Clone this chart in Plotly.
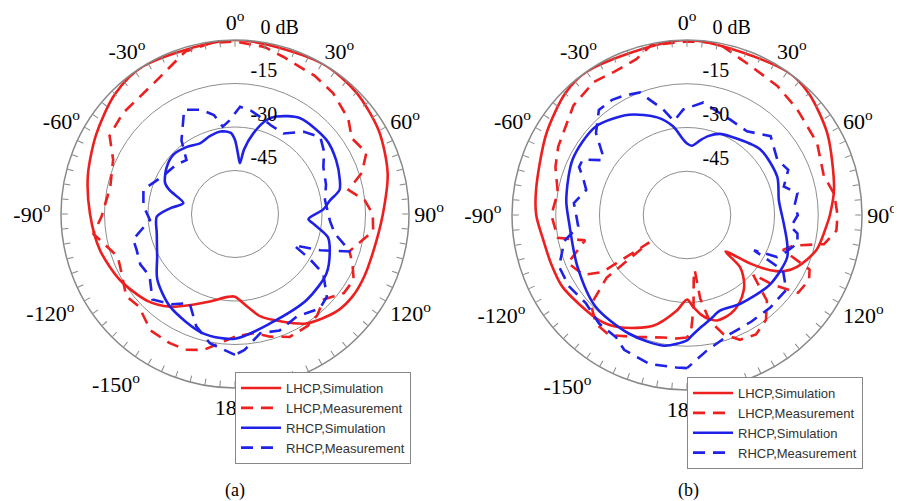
import plotly.graph_objects as go

# ---------------- data (angle in degrees, gain in dB) ----------------
# Panel (a)
a_lhcp_sim_theta = [-180, -175, -164, -155, -145, -135, -120, -105, -90, -75, -60, -45, -32, 0, 30, 45, 60, 75, 90, 105, 116, 125, 134, 147, 157, 166, 172]
a_lhcp_sim_db    = [-31.5, -31.3, -28.6, -25.5, -21.0, -17.5, -14.3, -11.8, -10.0, -7.5, -4.8, -1.5, 0.0, 0.0, 0.0, -0.8, -2.7, -5.5, -9.0, -10.6, -10.5, -10.5, -11.5, -15.0, -19.8, -23.6, -27.5]

a_lhcp_meas_theta = [-180, -167, -160, -153, -144, -134, -127, -117, -110, -98, -91, -78, -66, -58, -48, -30, -17, -8, 0, 10, 17, 30, 39, 50, 57, 65, 72, 78, 84, 90, 97, 103, 108, 113, 119, 126, 134, 141, 147, 156, 164, 171]
a_lhcp_meas_db    = [-17.7, -11.9, -10.2, -10.1, -10.4, -14.0, -13.0, -16.0, -17.0, -10.7, -14.0, -16.0, -14.0, -9.0, -8.0, -6.5, -1.4, -0.5, -0.5, -1.5, -3.3, -5.0, -6.3, -9.0, -12.0, -10.0, -14.0, -20.0, -15.0, -12.5, -12.0, -16.0, -18.5, -16.0, -13.2, -13.6, -17.5, -15.0, -14.0, -13.6, -16.0, -18.4]

a_rhcp_sim_theta = [-180, -165, -145, -130, -119, -104, -92, -85, -78, -70, -66, -56, -46, -36, -26, -18, -10, -3, 0, 3, 5.5, 8, 12.8, 18.6, 23, 34, 51, 62, 72, 77, 82, 87, 94, 97, 104, 111, 123, 140, 162]
a_rhcp_sim_db    = [-17.0, -17.4, -21.0, -25.0, -29.3, -32.2, -33.0, -37.5, -41.8, -36.0, -33.6, -31.5, -30.5, -31.5, -32.8, -31.8, -31.1, -32.0, -34.5, -39.5, -42.4, -37.5, -31.5, -25.8, -23.5, -20.1, -19.4, -20.5, -22.0, -23.0, -27.0, -29.5, -34.6, -32.8, -27.0, -25.0, -22.4, -21.4, -20.4]

a_rhcp_meas_theta = [-180, -169, -161, -153, -145, -136, -126, -118, -110, -104, -94, -85, -75, -62, -50, -42, -36, -26, -18, -12, -8, -4, 2.7, 9, 14, 22, 31, 40, 48, 55, 62, 72, 81, 94, 101, 108, 113, 118, 121, 124, 132, 138, 149, 159, 168, 176]
a_rhcp_meas_db    = [-11.4, -14.6, -19.0, -25.5, -22.0, -19.0, -23.6, -23.0, -23.9, -23.8, -30.6, -28.3, -27.3, -32.0, -33.5, -35.0, -28.6, -20.0, -22.2, -25.1, -29.6, -28.0, -23.0, -24.0, -25.3, -27.0, -27.6, -23.0, -20.4, -22.5, -25.5, -27.0, -28.6, -27.2, -25.0, -18.2, -28.0, -37.0, -30.0, -23.3, -17.4, -16.2, -18.7, -17.0, -18.0, -13.0]

# Panel (b)
b_lhcp_sim_theta = [-180, -173.8, -163, -149, -140, -120, -110, -100, -90, -80, -60, -45, -35, 0, 35, 45, 60, 80, 90, 93, 105, 115, 120, 123.5, 127.5, 133.5, 134.5, 140, 143, 149, 156, 164, 168, 172, 176]
b_lhcp_sim_db    = [-31.0, -27.0, -20.3, -15.1, -13.0, -10.7, -10.5, -10.0, -8.3, -7.5, -4.3, -1.0, 0.0, 0.0, 0.0, -1.0, -4.4, -8.8, -11.0, -11.7, -14.0, -18.2, -21.5, -25.7, -32.6, -41.8, -34.5, -29.5, -27.7, -25.0, -23.0, -22.4, -23.5, -25.5, -28.3]

b_lhcp_meas_theta = [-180, -175, -169, -157, -147, -140, -133, -128, -126, -124, -120, -112, -104, -100, -90, -80, -70, -62, -46, -35, -27, -18, -12, 0, 10, 23, 35, 46, 61, 74, 82, 90, 96, 102, 106, 110, 114, 118, 125, 129, 132, 137, 143, 150, 157, 163, 168, 171, 172, 174, 176, 178]
b_lhcp_meas_db    = [-18.0, -17.5, -17.2, -14.6, -10.9, -11.4, -15.0, -25.0, -44.0, -25.0, -19.0, -16.0, -24.0, -15.0, -13.5, -15.0, -12.0, -10.0, -5.9, -4.3, -4.9, -3.8, -0.5, -0.5, 0.0, -4.4, -6.0, -7.6, -9.0, -11.2, -9.0, -8.4, -8.5, -12.0, -22.0, -25.0, -14.0, -12.6, -13.5, -22.0, -29.6, -19.8, -15.0, -12.7, -13.5, -17.3, -23.0, -31.0, -41.0, -38.0, -28.0, -20.0]

b_rhcp_sim_theta = [-180, -170, -154, -135, -115, -94, -83, -64, -46, -30, -17, -9, -3, 0, 4, 10, 15, 22, 29, 48, 67, 81, 95, 105, 113, 130, 149, 161, 167, 173, 178.6]
b_rhcp_sim_db    = [-17.0, -14.5, -14.7, -15.6, -18.5, -19.5, -18.3, -16.4, -16.4, -20.3, -25.0, -29.2, -34.0, -35.5, -36.2, -34.0, -32.0, -30.0, -29.2, -26.3, -26.4, -28.1, -26.7, -24.5, -22.7, -22.9, -24.5, -25.3, -23.5, -21.2, -18.0]

b_rhcp_meas_theta = [-180, -176, -166, -155, -150, -141, -131, -121, -112, -102, -96, -90, -84, -76, -70, -66, -62, -57, -54, -48, -40, -33, -28, -21, -18, -12.7, -8, -2, 8.3, 16, 24.4, 35.6, 46.7, 58.5, 66, 73.6, 78.8, 85, 90, 96.5, 99.5, 104.5, 111.7, 115, 117.8, 120, 127, 138, 149, 160, 171.7]
b_rhcp_meas_db    = [-7.5, -7.6, -7.3, -9.0, -11.5, -12.1, -14.0, -12.7, -12.7, -17.0, -22.5, -22.0, -21.0, -24.4, -22.0, -19.5, -19.5, -25.5, -24.1, -18.0, -13.0, -12.9, -13.7, -15.0, -18.4, -22.9, -27.5, -23.8, -21.0, -23.0, -24.1, -24.7, -20.6, -23.7, -22.0, -25.4, -21.4, -23.0, -22.0, -24.2, -21.6, -20.9, -24.3, -25.9, -34.0, -22.0, -17.4, -17.3, -17.3, -16.6, -13.0]

series_names = ["LHCP,Simulation", "LHCP,Measurement", "RHCP,Simulation", "RHCP,Measurement"]
angle_tickvals = list(range(0, 360, 5))
radial_tickvals = [-45, -30, -15, 0]
radial_ticktext = ["-45", "-30", "-15", "0 dB"]
panel_labels = ["(a)", "(b)"]

RED = "#ee1f1f"
BLUE = "#1f22e6"
GRID = "#8e8e8e"
NB = "\u00a0"

def closed(t, r):
    return list(t) + [t[0]], list(r) + [r[0]]

panels = [
    ("polar2", "legend", [(a_lhcp_sim_theta, a_lhcp_sim_db), (a_lhcp_meas_theta, a_lhcp_meas_db),
                          (a_rhcp_sim_theta, a_rhcp_sim_db), (a_rhcp_meas_theta, a_rhcp_meas_db)]),
    ("polar4", "legend2", [(b_lhcp_sim_theta, b_lhcp_sim_db), (b_lhcp_meas_theta, b_lhcp_meas_db),
                           (b_rhcp_sim_theta, b_rhcp_sim_db), (b_rhcp_meas_theta, b_rhcp_meas_db)]),
]
styles = [(RED, "solid", "spline"), (RED, "12px,8px", "linear"), (BLUE, "solid", "spline"), (BLUE, "12px,8px", "linear")]

fig = go.Figure()
for subplot, legend, series in panels:
    for (t, r), name, (col, dash, shape) in zip(series, series_names, styles):
        tt, rr = closed(t, r)
        fig.add_trace(go.Scatterpolar(
            theta=tt, r=rr, mode="lines", name=name, subplot=subplot, legend=legend,
            line=dict(color=col, width=2.6, dash=dash, shape=shape, smoothing=0.8),
            showlegend=True))

# page body has an 8px margin: the figure is sized so that it ends at the window edge
OFF = 8
W, H = 902 - OFF, 501 - OFF

def px_x(x):
    return (x - OFF) / W

def px_y(y):
    return 1 - (y - OFF) / H

dom_a = dict(x=[px_x(61), px_x(409)], y=[px_y(388), px_y(40)])
dom_b = dict(x=[px_x(512), px_x(862)], y=[px_y(390), px_y(40)])

def grid_polar(dom):
    return dict(
        domain=dom, bgcolor="white",
        angularaxis=dict(rotation=90, direction="clockwise", tickmode="array",
                         tickvals=list(range(0, 360, 30)), showticklabels=False, ticks="",
                         showgrid=True, gridcolor=GRID, gridwidth=1, showline=False),
        radialaxis=dict(visible=False, range=[-60, 0], showgrid=False),
    )

def angle_text(v):
    if v % 30:
        return ""
    a = v - 360 if v > 180 else v
    pad = NB if a in (-90, -120, -150) else ""
    return f"{a}<sup>o</sup>{pad}"

def radial_text(t):
    # padded so the label sits to the right of the spoke, just above its ring
    pad = NB * (5 if "dB" in t else 3)
    return f"{pad}{t}<br>{NB}"

def label_polar(dom):
    return dict(
        domain=dom, bgcolor="rgba(0,0,0,0)",
        angularaxis=dict(rotation=90, direction="clockwise", tickmode="array",
                         tickvals=angle_tickvals, ticktext=[angle_text(v) for v in angle_tickvals],
                         ticks="inside", ticklen=6, tickwidth=1, tickcolor="#888",
                         showgrid=False, showline=True, linecolor="#888", linewidth=1.5,
                         tickfont=dict(family="Liberation Serif", size=22, color="black")),
        radialaxis=dict(range=[-60, 0], tickmode="array", tickvals=radial_tickvals,
                        ticktext=[radial_text(t) for t in radial_ticktext],
                        showgrid=True, gridcolor=GRID, gridwidth=1,
                        showline=False, ticks="", angle=90, tickangle=90, side="clockwise",
                        tickfont=dict(family="Liberation Serif", size=20, color="black")),
    )

leg_common = dict(xanchor="left", yanchor="top", bgcolor="white", bordercolor="#888",
                  borderwidth=1, font=dict(family="Liberation Sans", size=13, color="#333"),
                  tracegroupgap=0, itemwidth=40)

fig.update_layout(
    width=W, height=H, margin=dict(l=0, r=0, t=0, b=0),
    paper_bgcolor="white", plot_bgcolor="white",
    polar=grid_polar(dom_a), polar2=label_polar(dom_a),
    polar3=grid_polar(dom_b), polar4=label_polar(dom_b),
    legend=dict(x=px_x(235), y=px_y(372), **leg_common),
    legend2=dict(x=px_x(687), y=px_y(377), **leg_common),
    annotations=[
        dict(text=panel_labels[0], x=px_x(235), y=px_y(490), xref="paper", yref="paper",
             xanchor="center", yanchor="middle", showarrow=False,
             font=dict(family="Liberation Serif", size=18, color="black")),
        dict(text=panel_labels[1], x=px_x(688), y=px_y(490), xref="paper", yref="paper",
             xanchor="center", yanchor="middle", showarrow=False,
             font=dict(family="Liberation Serif", size=18, color="black")),
    ],
)

fig.write_html("out.html")
